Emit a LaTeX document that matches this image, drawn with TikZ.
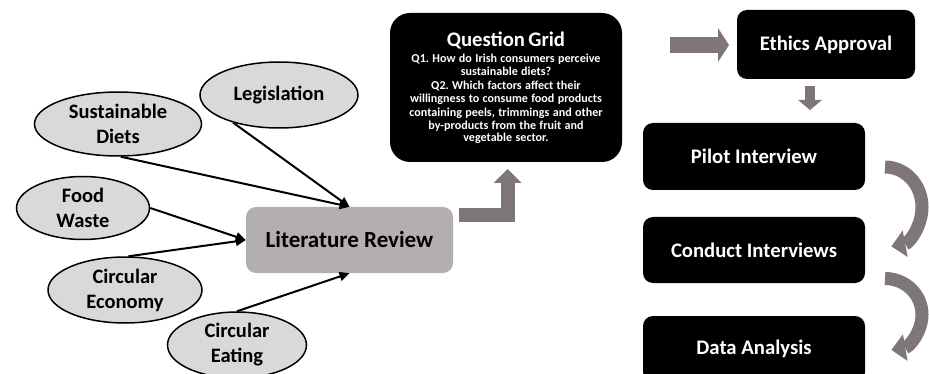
\documentclass[tikz,border=0pt]{standalone}
\usepackage{fontspec}
\setmainfont{Carlito}
\usetikzlibrary{shapes.geometric,arrows.meta}
\definecolor{arrgray}{RGB}{127,119,119}
\definecolor{ellfill}{RGB}{217,217,217}
\definecolor{litfill}{RGB}{180,175,175}
\frenchspacing
\begin{document}
\begin{tikzpicture}[x=1pt,y=-1pt,
  topic/.style={ellipse,draw=black,line width=1.5pt,fill=ellfill,inner sep=0pt,align=center,
    font=\fontsize{20.5}{25}\selectfont\bfseries},
  blackbox/.style={rectangle,rounded corners=10pt,fill=black,text=white,inner sep=0pt,
    font=\fontsize{20.7}{24}\selectfont\bfseries},
  feed/.style={draw=black,line width=2pt,-{Triangle[length=10pt,width=9pt]}},
  blockarrow/.style={draw=arrgray,line join=miter}
]
\useasboundingbox (0,0) rectangle (929,374);
\clip (0,0) rectangle (929,374);

% topic ellipses
\node[topic,minimum width=158pt,minimum height=66pt] (leg) at (279,95) {Legislation};
\node[topic,minimum width=167pt,minimum height=64pt] (sus) at (118,124) {Sustainable\\Diets};
\node[topic,minimum width=133pt,minimum height=63pt] (food) at (83,208) {Food\\Waste};
\node[topic,minimum width=154pt,minimum height=66pt] (ceco) at (125,290) {Circular\\Economy};
\node[topic,minimum width=139pt,minimum height=66pt] (ceat) at (237,345) {Circular\\Eating};

% literature review
\node[rectangle,rounded corners=10pt,fill=litfill,inner sep=0pt,minimum width=207pt,minimum height=66pt,
  font=\fontsize{23}{27}\selectfont\bfseries] (lit) at (349.5,240) {Literature Review};

% question grid
\node[rectangle,rounded corners=20pt,fill=black,text=white,inner sep=0pt,minimum width=232pt,
  minimum height=149pt,text width=228pt,align=center] (qg) at (506,87.5)
  {\fontsize{20.7}{24}\selectfont\bfseries Question Grid\\[3pt]
   \fontsize{12.1}{13.4}\selectfont\bfseries Q1. How do Irish consumers perceive\\
   sustainable diets?\\
   Q2. Which factors affect their\\
   willingness to consume food products\\
   containing peels, trimmings and other\\
   by-products from the fruit and\\
   vegetable sector.};

% process boxes
\node[blackbox,minimum width=178pt,minimum height=69pt] (eth) at (826,44.5) {Ethics Approval};
\node[blackbox,minimum width=222pt,minimum height=67pt] (pil) at (754,156.5) {Pilot Interview};
\node[blackbox,minimum width=222pt,minimum height=66pt] (con) at (754,250) {Conduct Interviews};
\node[blackbox,minimum width=222pt,minimum height=66pt] (dat) at (754,349) {Data Analysis};

% feeding connectors
\draw[feed] (leg.211) -- (lit.north);
\draw[feed] (sus.275) -- (lit.north);
\draw[feed] (food.east) -- (lit.west);
\draw[feed] (ceco.84) -- (lit.west);
\draw[feed] (ceat.north) -- (lit.south);

% block arrows
\coordinate (e1) at ([xshift=6pt]lit.east |- 0,215);
\coordinate (e2) at (507.5,169);
\draw[blockarrow,line width=14pt,-{Triangle[width=28pt,length=14pt,line width=0pt]}] (e1) -| (e2);

\coordinate (r1) at (670,45);
\coordinate (r2) at (729,45);
\draw[blockarrow,line width=16pt,-{Triangle[width=34pt,length=11pt,line width=0pt]}] (r1) -- (r2);

\coordinate (d1) at (810,86);
\coordinate (d2) at (810,110);
\draw[blockarrow,line width=10pt,-{Triangle[width=24pt,length=10pt,line width=0pt]}] (d1) -- (d2);

\coordinate (c1) at (885,167);
\draw[blockarrow,line width=13pt,-{Triangle[width=27pt,length=14pt,line width=0pt]}]
  (c1) arc[start angle=-90,end angle=80,x radius=37,y radius=40];

\coordinate (c3) at (885,278.5);
\draw[blockarrow,line width=13pt,-{Triangle[width=27pt,length=14pt,line width=0pt]}]
  (c3) arc[start angle=-90,end angle=80,x radius=37,y radius=36];
\end{tikzpicture}
\end{document}
